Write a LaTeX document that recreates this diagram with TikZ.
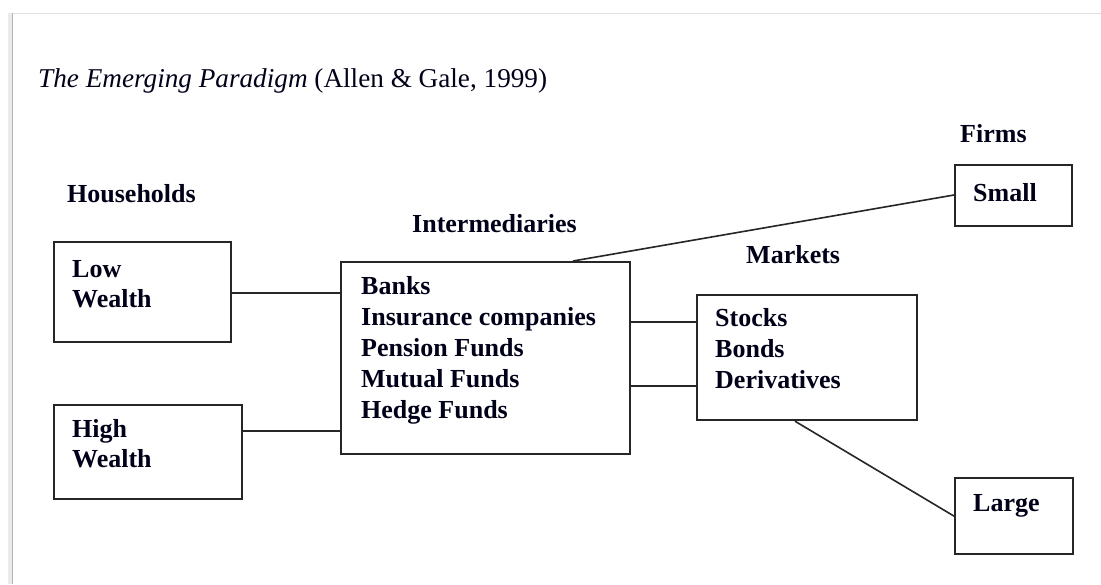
\documentclass[tikz,border=0pt]{standalone}
\usepackage{fontspec}
\setmainfont{Liberation Serif}
\begin{document}
\begin{tikzpicture}[x=1pt,y=-1pt,
  boxst/.style={draw=black!85, line width=2.2pt, inner sep=0pt, anchor=north west},
  lbl/.style={anchor=base west, inner sep=0pt, text=black!90!blue, font=\fontsize{26}{31}\selectfont\bfseries},
  conn/.style={draw=black!85, line width=2.1pt}]
\useasboundingbox (0,0) rectangle (1101,584);
\fill[white] (0,0) rectangle (1101,584);
% page frame
\draw[black!12, line width=1pt] (12,13) -- (1101,13);
\draw[black!8, line width=4pt] (10,13) -- (10,584);
\draw[black!30, line width=1.5pt] (12.5,13) -- (12.5,584);
% title
\node[anchor=base west, inner sep=0pt, text=black!90!blue, font=\fontsize{27.2}{32}\selectfont] (title) at (38,87) {\textit{The Emerging Paradigm} (Allen \& Gale, 1999)};
% boxes
\node[boxst, minimum width=177pt, minimum height=100pt] (low) at (53,241) {};
\node[boxst, minimum width=188pt, minimum height=94pt] (high) at (53,404) {};
\node[boxst, minimum width=289pt, minimum height=192pt] (inter) at (340,261) {};
\node[boxst, minimum width=220pt, minimum height=125pt] (mk) at (696,294) {};
\node[boxst, minimum width=117pt, minimum height=61pt] (small) at (954,164) {};
\node[boxst, minimum width=118pt, minimum height=76pt] (large) at (954,477) {};
% headings
\node[lbl] (hh) at (67,202) {Households};
\node[lbl] (ih) at (412,232) {Intermediaries};
\node[lbl] (mh) at (746,263) {Markets};
\node[lbl] (fh) at (960,142) {Firms};
% box texts
\node[lbl] (l1) at (72,277) {Low};
\node[lbl] (l2) at (72,307) {Wealth};
\node[lbl] (h1) at (72,437) {High};
\node[lbl] (h2) at (72,467) {Wealth};
\node[lbl] (i1) at (361,294) {Banks};
\node[lbl] (i2) at (361,325) {Insurance companies};
\node[lbl] (i3) at (361,356) {Pension Funds};
\node[lbl] (i4) at (361,387) {Mutual Funds};
\node[lbl] (i5) at (361,418) {Hedge Funds};
\node[lbl] (m1) at (715,326) {Stocks};
\node[lbl] (m2) at (715,357) {Bonds};
\node[lbl] (m3) at (715,388) {Derivatives};
\node[lbl] (s1) at (973,201) {Small};
\node[lbl] (g1) at (973,511) {Large};
% connectors
\coordinate (yl) at (0,293);
\coordinate (yh) at (0,431);
\coordinate (ym1) at (0,322);
\coordinate (ym2) at (0,386);
\coordinate (xi) at (573,0);
\coordinate (xm) at (795,0);
\coordinate (ys) at (0,195);
\draw[conn] (yl -| low.east) -- (yl -| inter.west);
\draw[conn] (yh -| high.east) -- (yh -| inter.west);
\draw[conn] (ym1 -| inter.east) -- (ym1 -| mk.west);
\draw[conn] (ym2 -| inter.east) -- (ym2 -| mk.west);
\draw[conn, line width=1.6pt] (xi |- inter.north) -- (ys -| small.west);
\draw[conn, line width=1.6pt] (xm |- mk.south) -- (large.west);
\end{tikzpicture}
\end{document}
